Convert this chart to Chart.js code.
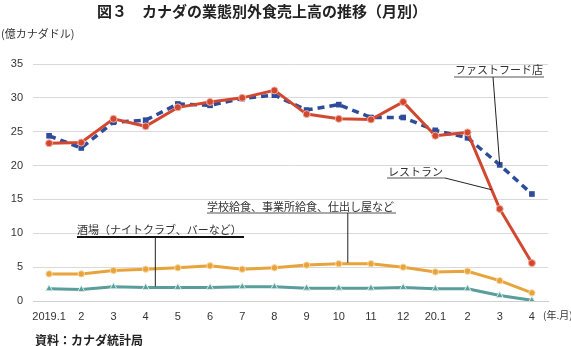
<!DOCTYPE html>
<html><head><meta charset="utf-8">
<script src="https://cdn.jsdelivr.net/npm/chart.js@4/dist/chart.umd.min.js"></script>
<style>html,body{margin:0;padding:0;background:#fff}#wrap{width:571px;height:346px;position:relative}</style>
</head><body><div id="wrap"><canvas id="c" width="571" height="346"></canvas></div>
<script>
const categories = ['2019.1','2','3','4','5','6','7','8','9','10','11','12','20.1','2','3','4'];
const restaurant = [23.3,23.4,26.9,25.8,28.6,29.4,30.0,31.1,27.6,26.9,26.8,29.4,24.4,24.9,13.6,5.6];
const fastFood   = [24.4,22.6,26.4,26.7,29.1,28.9,29.9,30.4,28.2,29.0,27.1,27.1,25.2,24.1,20.1,15.8];
const catering   = [4.0,4.0,4.5,4.7,4.9,5.2,4.7,4.9,5.3,5.5,5.5,5.0,4.3,4.4,3.0,1.2];
const bars       = [1.8,1.7,2.1,2.0,2.0,2.0,2.1,2.1,1.9,1.9,1.9,2.0,1.8,1.8,0.8,0.1];
const yTicks = [0,5,10,15,20,25,30,35];

const JP = '"Noto Sans CJK JP", sans-serif';
const NUM = '"Liberation Sans", "Noto Sans", sans-serif';

const annot = {
  id: 'annot',
  afterDraw(chart) {
    const ctx = chart.ctx, x = chart.scales.x, y = chart.scales.y;
    const px = i => x.getPixelForValue(i);
    const lerp = (arr, t) => { const i = Math.floor(t), f = t - i; return arr[i] + (arr[i+1]-arr[i])*f; };
    ctx.save();
    ctx.fillStyle = '#222';
    ctx.font = 'bold 15px ' + JP;
    ctx.textBaseline = 'middle';
    ctx.textAlign = 'left';
    ctx.fillText('図３　カナダの業態別外食売上高の推移（月別）', 97, 11);
    ctx.font = '11px ' + JP;
    ctx.fillStyle = '#333';
    ctx.fillText('(億カナダドル)', 1, 34);
    ctx.font = '10px ' + JP;
    ctx.fillText('(年.月)', 543, 315);
    ctx.font = 'bold 12px ' + JP;
    ctx.fillStyle = '#222';
    ctx.fillText('資料：カナダ統計局', 35, 340);

    function label(text, lx, ly, ux1, ux2, uy, uw, ucol) {
      ctx.font = '11px ' + JP;
      ctx.fillStyle = '#333';
      ctx.textAlign = 'left';
      ctx.textBaseline = 'alphabetic';
      ctx.fillText(text, lx, ly);
      ctx.strokeStyle = ucol; ctx.lineWidth = uw;
      ctx.beginPath(); ctx.moveTo(ux1, uy); ctx.lineTo(ux2, uy); ctx.stroke();
    }
    function leader(x1, y1, x2, y2) {
      ctx.strokeStyle = '#222'; ctx.lineWidth = 1;
      ctx.beginPath(); ctx.moveTo(x1, y1); ctx.lineTo(x2, y2); ctx.stroke();
    }
    label('ファストフード店', 455, 74, 454, 544, 77, 1, '#555');
    leader(493, 77, px(14), y.getPixelForValue(fastFood[14]));
    label('レストラン', 388, 176, 387, 445, 178, 1, '#555');
    leader(445, 178, px(13.75), y.getPixelForValue(lerp(restaurant, 13.75)));
    label('学校給食、事業所給食、仕出し屋など', 207, 211, 207, 396, 213, 1, '#555');
    leader(px(9.28), 213, px(9.28), y.getPixelForValue(lerp(catering, 9.28)) - 1);
    label('酒場（ナイトクラブ、バーなど）', 77, 234, 77, 244, 237, 2, '#111');
    leader(px(3.3), 237, px(3.3), y.getPixelForValue(lerp(bars, 3.3)) - 1);
    ctx.restore();
  }
};

new Chart(document.getElementById('c'), {
  type: 'line',
  data: {
    labels: categories,
    datasets: [
      { label: 'バー', data: bars, borderColor: '#5A9E9B', backgroundColor: '#5A9E9B', borderWidth: 3,
        pointStyle: 'triangle', pointRadius: 4, pointBorderColor: '#d6ecea', pointBorderWidth: 1, tension: 0 },
      { label: '給食', data: catering, borderColor: '#E8A33A', backgroundColor: '#E8A33A', borderWidth: 3,
        pointStyle: 'circle', pointRadius: 3.2, pointBorderColor: '#f7dcb0', pointBorderWidth: 1, tension: 0 },
      { label: 'レストラン', data: restaurant, borderColor: '#D2472F', backgroundColor: '#D2472F', borderWidth: 3,
        pointStyle: 'circle', pointRadius: 3.5, pointBorderColor: '#f0b0a0', pointBorderWidth: 1, tension: 0 },
      { label: 'ファストフード店', data: fastFood, borderColor: '#2F4C9C', backgroundColor: '#2F4C9C', borderWidth: 3.5,
        borderDash: [7, 5], pointStyle: 'rect', pointRadius: 4, pointBorderColor: '#2F4C9C', pointBorderWidth: 0, tension: 0 }
    ]
  },
  options: {
    responsive: false,
    animation: false,
    devicePixelRatio: 1,
    layout: { padding: { top: 64, right: 23, bottom: 21, left: 0 } },
    plugins: { legend: { display: false }, tooltip: { enabled: false } },
    scales: {
      x: {
        offset: true,
        grid: { display: false, drawTicks: false },
        border: { display: true, color: '#d0d0d0', width: 1 },
        ticks: { color: '#333', font: { family: NUM, size: 11 }, padding: 9, maxRotation: 0, autoSkip: false },
        afterFit(s) { s.height = 24; }
      },
      y: {
        min: 0, max: 35,
        afterBuildTicks(s) { s.ticks = yTicks.map(v => ({ value: v })); },
        grid: { color: '#d9d9d9', drawTicks: false, lineWidth: 1 },
        border: { display: false },
        ticks: { color: '#333', font: { family: NUM, size: 11 }, padding: 10 },
        afterFit(s) { s.width = 33; }
      }
    }
  },
  plugins: [annot]
});
</script></body></html>
